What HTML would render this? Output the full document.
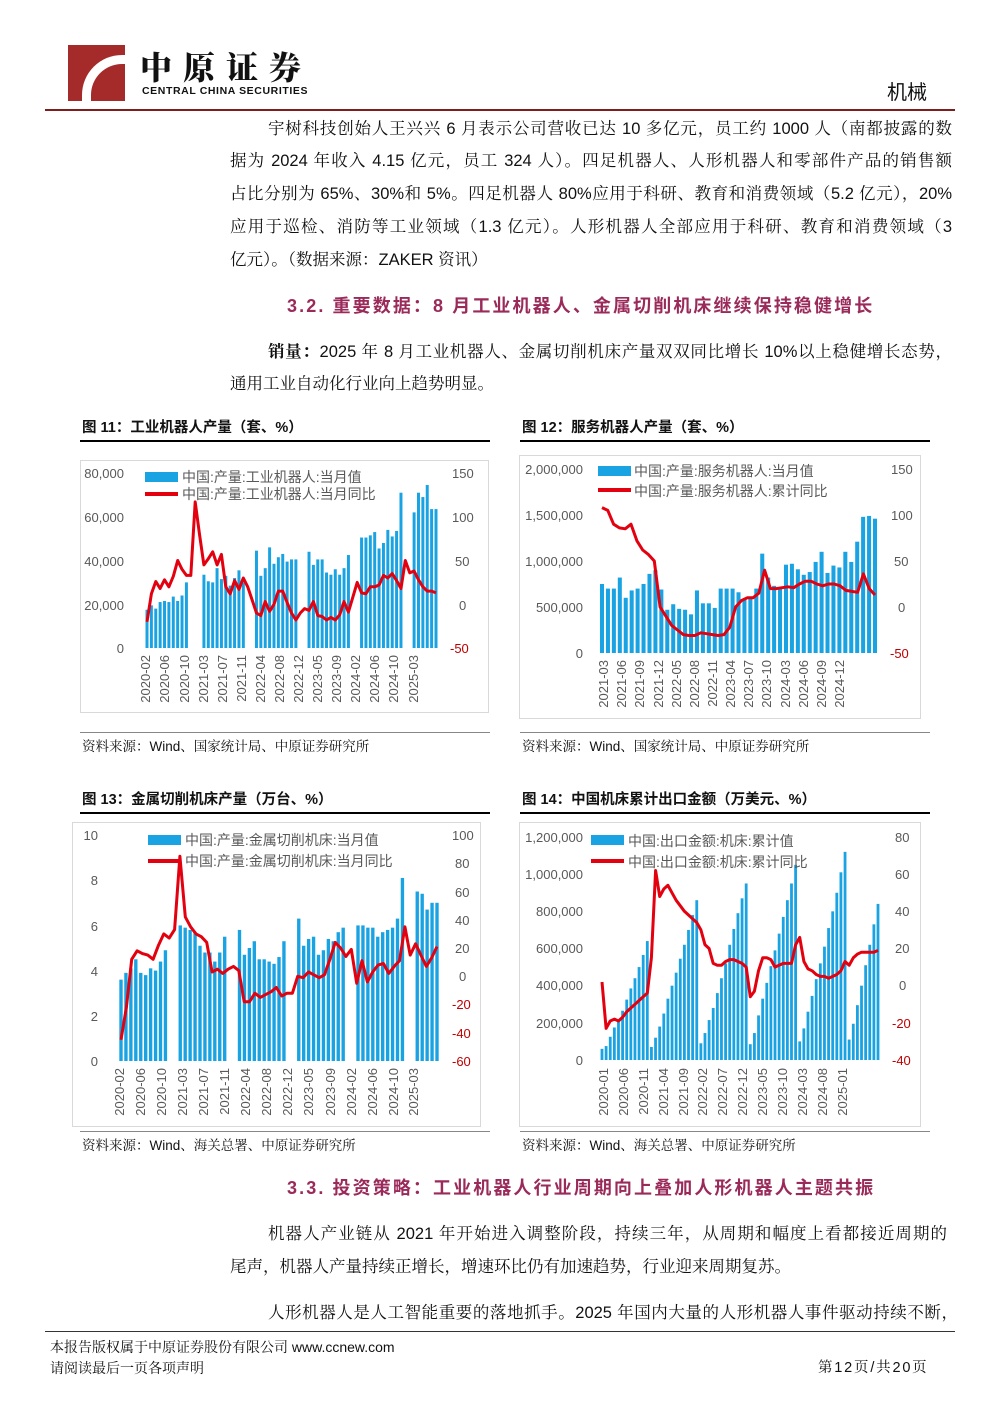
<!DOCTYPE html>
<html><head><meta charset="utf-8">
<style>
body{margin:0;background:#fff;}
#pg{position:relative;width:1000px;height:1415px;overflow:hidden;font-family:"Liberation Sans","Noto Serif CJK SC",serif;color:#111;}
.t{position:absolute;white-space:nowrap;font-size:16.5px;line-height:18px;}
.j{text-align:justify;text-align-last:justify;white-space:normal;}
.h{position:absolute;white-space:nowrap;font-family:"Liberation Sans","Noto Sans CJK SC",sans-serif;font-weight:bold;font-size:18px;color:#9a2a5a;line-height:20px;letter-spacing:2.1px;}
.ft{position:absolute;font-family:"Liberation Sans","Noto Sans CJK SC",sans-serif;font-weight:bold;font-size:14.5px;line-height:16px;}
.src{position:absolute;font-size:13.5px;line-height:16px;font-family:"Liberation Sans","Noto Serif CJK SC",serif;}
svg text{font-family:"Liberation Sans","Noto Sans CJK SC",sans-serif;}
</style></head><body><div id="pg">

<!-- header -->
<div style="position:absolute;left:68px;top:45px;width:57px;height:56px;background:#a52a2a;overflow:hidden">
 <div style="position:absolute;left:14px;top:10px;width:36px;height:60px;border-left:9px solid #fff;border-top:9px solid #fff;border-radius:40px 0 0 0;"></div>
</div>
<div style="position:absolute;left:140px;top:48px;font-family:'Noto Serif CJK SC',serif;font-weight:900;font-size:32px;letter-spacing:11px;line-height:36px">中原证券</div>
<div style="position:absolute;left:142px;top:85px;font-family:'Liberation Sans',sans-serif;font-weight:bold;font-size:10.5px;line-height:12px;letter-spacing:0.6px">CENTRAL CHINA SECURITIES</div>
<div style="position:absolute;left:887px;top:82px;font-size:20px;line-height:22px;font-family:'Liberation Sans','Noto Sans CJK SC',sans-serif">机械</div>
<div style="position:absolute;left:45px;top:109px;width:910px;height:2px;background:#7f1d1d"></div>

<!-- body text -->
<div class="t j" style="left:268px;top:120px;width:684px">宇树科技创始人王兴兴 6 月表示公司营收已达 10 多亿元，员工约 1000 人（南都披露的数</div>
<div class="t j" style="left:230px;top:152px;width:722px">据为 2024 年收入 4.15 亿元，员工 324 人）。四足机器人、人形机器人和零部件产品的销售额</div>
<div class="t j" style="left:230px;top:185px;width:722px">占比分别为 65%、30%和 5%。四足机器人 80%应用于科研、教育和消费领域（5.2 亿元），20%</div>
<div class="t j" style="left:230px;top:218px;width:722px">应用于巡检、消防等工业领域（1.3 亿元）。人形机器人全部应用于科研、教育和消费领域（3</div>
<div class="t" style="left:230px;top:251px">亿元）。（数据来源：ZAKER 资讯）</div>

<div class="h" style="left:287px;top:296px">3.2. 重要数据：8 月工业机器人、金属切削机床继续保持稳健增长</div>

<div class="t j" style="left:268px;top:343px;width:684px"><b>销量：</b>2025 年 8 月工业机器人、金属切削机床产量双双同比增长 10%以上稳健增长态势，</div>
<div class="t" style="left:230px;top:375px">通用工业自动化行业向上趋势明显。</div>

<div class="ft" style="left:82px;top:420px">图 11：工业机器人产量（套、%）</div>
<div class="ft" style="left:522px;top:420px">图 12：服务机器人产量（套、%）</div>
<div class="src" style="left:82px;top:739px">资料来源：Wind、国家统计局、中原证券研究所</div>
<div class="src" style="left:522px;top:739px">资料来源：Wind、国家统计局、中原证券研究所</div>

<div class="ft" style="left:82px;top:792px">图 13：金属切削机床产量（万台、%）</div>
<div class="ft" style="left:522px;top:792px">图 14：中国机床累计出口金额（万美元、%）</div>
<div class="src" style="left:82px;top:1138px">资料来源：Wind、海关总署、中原证券研究所</div>
<div class="src" style="left:522px;top:1138px">资料来源：Wind、海关总署、中原证券研究所</div>

<div class="h" style="left:287px;top:1178px">3.3. 投资策略：工业机器人行业周期向上叠加人形机器人主题共振</div>

<div class="t j" style="left:268px;top:1225px;width:679px">机器人产业链从 2021 年开始进入调整阶段，持续三年，从周期和幅度上看都接近周期的</div>
<div class="t" style="left:230px;top:1258px">尾声，机器人产量持续正增长，增速环比仍有加速趋势，行业迎来周期复苏。</div>
<div class="t j" style="left:268px;top:1304px;width:690px">人形机器人是人工智能重要的落地抓手。2025 年国内大量的人形机器人事件驱动持续不断，</div>

<div style="position:absolute;left:45px;top:1331px;width:910px;height:1px;background:#333"></div>
<div class="src" style="left:50px;top:1339px;font-size:14px">本报告版权属于中原证券股份有限公司 www.ccnew.com</div>
<div class="src" style="left:50px;top:1360px;font-size:14px">请阅读最后一页各项声明</div>
<div class="src" style="left:818px;top:1360px;font-size:14.5px;letter-spacing:1.8px">第12页/共20页</div>

<svg id="sv" width="1000" height="1415" style="position:absolute;left:0;top:0" xmlns="http://www.w3.org/2000/svg">
<g fill="none">
<rect x="80.5" y="460.5" width="408" height="252" stroke="#d9d9d9"/>
<rect x="519.5" y="455.5" width="401" height="263" stroke="#d9d9d9"/>
<rect x="72.5" y="822.5" width="408" height="304" stroke="#d9d9d9"/>
<rect x="519.5" y="822.5" width="401" height="304" stroke="#d9d9d9"/>
</g>
<g fill="#000">
<rect x="80" y="440" width="410" height="2"/><rect x="520" y="440" width="410" height="2"/>
<rect x="80" y="812" width="410" height="2"/><rect x="520" y="812" width="410" height="2"/>
</g>
<g fill="#888"><rect x="80" y="732" width="410" height="1"/><rect x="520" y="732" width="410" height="1"/>
<rect x="80" y="1131" width="410" height="1"/><rect x="520" y="1131" width="410" height="1"/></g>
<g id="plots"></g>
<!-- legends -->
<g font-size="14" fill="#595959">
<rect x="145" y="472" width="33" height="10" fill="#1aa3e2"/><text x="182" y="482">中国:产量:工业机器人:当月值</text>
<rect x="145" y="492" width="33" height="4" fill="#e3000f"/><text x="182" y="499">中国:产量:工业机器人:当月同比</text>
<rect x="598" y="466" width="33" height="10" fill="#1aa3e2"/><text x="634" y="476">中国:产量:服务机器人:当月值</text>
<rect x="598" y="488" width="33" height="4" fill="#e3000f"/><text x="634" y="496">中国:产量:服务机器人:累计同比</text>
<rect x="148" y="835" width="33" height="10" fill="#1aa3e2"/><text x="185" y="845">中国:产量:金属切削机床:当月值</text>
<rect x="148" y="859" width="33" height="4" fill="#e3000f"/><text x="185" y="866">中国:产量:金属切削机床:当月同比</text>
<rect x="591" y="835" width="33" height="10" fill="#1aa3e2"/><text x="628" y="846">中国:出口金额:机床:累计值</text>
<rect x="591" y="859" width="33" height="4" fill="#e3000f"/><text x="628" y="867">中国:出口金额:机床:累计同比</text>
</g>
<!-- axis labels -->
<g font-size="13" fill="#595959" text-anchor="end">
<text x="124" y="478">80,000</text><text x="124" y="522">60,000</text><text x="124" y="566">40,000</text><text x="124" y="610">20,000</text><text x="124" y="653">0</text>
<text x="583" y="474">2,000,000</text><text x="583" y="520">1,500,000</text><text x="583" y="566">1,000,000</text><text x="583" y="612">500,000</text><text x="583" y="658">0</text>
<text x="98" y="840">10</text><text x="98" y="885">8</text><text x="98" y="931">6</text><text x="98" y="976">4</text><text x="98" y="1021">2</text><text x="98" y="1066">0</text>
<text x="583" y="842">1,200,000</text><text x="583" y="879">1,000,000</text><text x="583" y="916">800,000</text><text x="583" y="953">600,000</text><text x="583" y="990">400,000</text><text x="583" y="1028">200,000</text><text x="583" y="1065">0</text>
</g>
<g font-size="13" fill="#595959">
<text x="452" y="478">150</text><text x="452" y="522">100</text><text x="455" y="566">50</text><text x="459" y="610">0</text><text x="450" y="653" fill="#c00000">-50</text>
<text x="891" y="474">150</text><text x="891" y="520">100</text><text x="894" y="566">50</text><text x="898" y="612">0</text><text x="890" y="658" fill="#c00000">-50</text>
<text x="452" y="840">100</text><text x="455" y="868">80</text><text x="455" y="897">60</text><text x="455" y="925">40</text><text x="455" y="953">20</text><text x="459" y="981">0</text><text x="452" y="1009" fill="#c00000">-20</text><text x="452" y="1038" fill="#c00000">-40</text><text x="452" y="1066" fill="#c00000">-60</text>
<text x="895" y="842">80</text><text x="895" y="879">60</text><text x="895" y="916">40</text><text x="895" y="953">20</text><text x="899" y="990">0</text><text x="892" y="1028" fill="#c00000">-20</text><text x="892" y="1065" fill="#c00000">-40</text>
</g>
<g font-size="13" fill="#595959" text-anchor="end">
<text transform="translate(150,655) rotate(-90)">2020-02</text><text transform="translate(169,655) rotate(-90)">2020-06</text><text transform="translate(189,655) rotate(-90)">2020-10</text><text transform="translate(208,655) rotate(-90)">2021-03</text><text transform="translate(227,655) rotate(-90)">2021-07</text><text transform="translate(246,655) rotate(-90)">2021-11</text><text transform="translate(265,655) rotate(-90)">2022-04</text><text transform="translate(284,655) rotate(-90)">2022-08</text><text transform="translate(303,655) rotate(-90)">2022-12</text><text transform="translate(322,655) rotate(-90)">2023-05</text><text transform="translate(341,655) rotate(-90)">2023-09</text><text transform="translate(360,655) rotate(-90)">2024-02</text><text transform="translate(379,655) rotate(-90)">2024-06</text><text transform="translate(398,655) rotate(-90)">2024-10</text><text transform="translate(418,655) rotate(-90)">2025-03</text>
<text transform="translate(608,660) rotate(-90)">2021-03</text><text transform="translate(626,660) rotate(-90)">2021-06</text><text transform="translate(644,660) rotate(-90)">2021-09</text><text transform="translate(663,660) rotate(-90)">2021-12</text><text transform="translate(681,660) rotate(-90)">2022-05</text><text transform="translate(699,660) rotate(-90)">2022-08</text><text transform="translate(717,660) rotate(-90)">2022-11</text><text transform="translate(735,660) rotate(-90)">2023-04</text><text transform="translate(753,660) rotate(-90)">2023-07</text><text transform="translate(771,660) rotate(-90)">2023-10</text><text transform="translate(790,660) rotate(-90)">2024-03</text><text transform="translate(808,660) rotate(-90)">2024-06</text><text transform="translate(826,660) rotate(-90)">2024-09</text><text transform="translate(844,660) rotate(-90)">2024-12</text>
<text transform="translate(124,1068) rotate(-90)">2020-02</text><text transform="translate(145,1068) rotate(-90)">2020-06</text><text transform="translate(166,1068) rotate(-90)">2020-10</text><text transform="translate(187,1068) rotate(-90)">2021-03</text><text transform="translate(208,1068) rotate(-90)">2021-07</text><text transform="translate(229,1068) rotate(-90)">2021-11</text><text transform="translate(250,1068) rotate(-90)">2022-04</text><text transform="translate(271,1068) rotate(-90)">2022-08</text><text transform="translate(292,1068) rotate(-90)">2022-12</text><text transform="translate(313,1068) rotate(-90)">2023-05</text><text transform="translate(335,1068) rotate(-90)">2023-09</text><text transform="translate(356,1068) rotate(-90)">2024-02</text><text transform="translate(377,1068) rotate(-90)">2024-06</text><text transform="translate(398,1068) rotate(-90)">2024-10</text><text transform="translate(418,1068) rotate(-90)">2025-03</text>
<text transform="translate(608,1068) rotate(-90)">2020-01</text><text transform="translate(628,1068) rotate(-90)">2020-06</text><text transform="translate(648,1068) rotate(-90)">2020-11</text><text transform="translate(668,1068) rotate(-90)">2021-04</text><text transform="translate(688,1068) rotate(-90)">2021-09</text><text transform="translate(707,1068) rotate(-90)">2022-02</text><text transform="translate(727,1068) rotate(-90)">2022-07</text><text transform="translate(747,1068) rotate(-90)">2022-12</text><text transform="translate(767,1068) rotate(-90)">2023-05</text><text transform="translate(787,1068) rotate(-90)">2023-10</text><text transform="translate(807,1068) rotate(-90)">2024-03</text><text transform="translate(827,1068) rotate(-90)">2024-08</text><text transform="translate(847,1068) rotate(-90)">2025-01</text>
</g>
</svg>
</div>
<script>
(function(){
var N=null,G=document.getElementById("plots");
function draw(bars,x0,x1,y0,yT,vmax,line,rmin,rmax,bwf){
  var n=bars.length,st=(x1-x0)/(n-1),bw=st*(bwf||0.68),s="";
  for(var i=0;i<n;i++){if(bars[i]==null)continue;var h=bars[i]/vmax*(y0-yT);
    s+='<rect x="'+(x0+i*st-bw/2).toFixed(2)+'" y="'+(y0-h).toFixed(2)+'" width="'+bw.toFixed(2)+'" height="'+h.toFixed(2)+'" fill="#1aa3e2"/>';}
  var m=line.length,ls=(x1-x0)/(m-1),p=[];
  for(var j=0;j<m;j++)p.push((x0+j*ls).toFixed(1)+","+(y0-(line[j]-rmin)/(rmax-rmin)*(y0-yT)).toFixed(1));
  s+='<polyline points="'+p.join(" ")+'" fill="none" stroke="#e3000f" stroke-width="3" stroke-linejoin="round"/>';
  G.insertAdjacentHTML("beforeend",s);
}
draw([17.5,19.5,18,21,21.5,21,23.5,21.5,24,30,N, N,N,33.5,30.5,30,36.5,31.5,33,28.5,32,35.5,30,
 N,N,44.5,33,36.5,46,38.5,41.5,43,39.5,40.5,40.5, N,N,44,38,40.5,40.5,34.5,33.5,36,33.5,36.5,42.5,
 N,N,50.5,50.5,51.5,53,45.5,48,54,51,53.5,71, N,N,62,71,69,74.5,63.5,63.5],147,436,648,473,80,
 [-20,12,26,18,28,20,32,50,40,33,33,117,80,45,52,60,45,57,20,12,27,17,30,20,5,-10,-13,3,-8,0,15,15,2,-10,-18,-10,-5,-7,3,-13,-14,-18,-15,-18,-12,3,-9,8,25,13,12,20,20,22,33,30,35,27,18,50,36,38,28,20,15,15,13].slice(0,67),-50,150);
draw([750,700,700,820,600,680,700,750,860,900,690,470,530,480,470,420,680,540,540,490,700,700,700,660,580,600,700,1080,820,730,710,960,970,910,850,880,990,1100,870,950,930,1100,990,1210,1480,1490,1460],602,875,653,469,2000,
 [108,105,90,86,85,90,72,62,57,50,0,-10,-20,-25,-30,-31,-31,-28,-29,-30,-31,-30,-22,0,7,10,10,15,40,20,20,21,22,21,25,28,28,25,23,25,25,23,18,17,16,36,20,13],-50,150);
draw([3.6,3.9,4.1,4.5,3.9,3.8,4.1,4.0,4.4,4.9,N,N,6.0,5.9,5.8,5.7,5.1,4.8,4.8,4.4,4.8,5.5,N,N,5.8,4.7,5.0,5.3,4.5,4.5,4.4,4.3,4.6,5.3,N,N,6.3,5.1,5.4,5.5,4.7,4.9,5.4,5.3,5.7,5.9,N,N,6.0,6.0,5.9,5.9,5.5,5.7,5.8,5.9,6.3,8.1,N,N,7.5,7.4,6.7,7.0,7.0],121,437,1061,835,10,
 [-45,-22,12,18,16,15,12,22,30,27,33,85,42,35,30,28,24,3,5,2,5,7,4,-18,-18,-12,-15,-13,-11,-8,-14,-12,-12,0,-1,3,1,-1,1,12,24,20,14,19,-5,11,-4,3,8,9,2,7,11,35,15,23,15,7,13,21],-60,100);
draw([60,75,125,175,215,265,325,385,440,500,565,640, 70,120,180,250,330,400,470,545,620,700,780,860, 90,145,215,280,360,440,520,620,705,790,870,950, 85,145,240,330,415,505,590,680,770,860,950,1050, 100,170,260,345,435,520,610,710,800,900,1010,1120, 110,195,295,400,510,620,730,840],602,878,1060,837,1200,
 [2,-23,-19,-18,-19,-17,-14,-12,-10,-8,-6,-4, 15,62,48,52,54,50,46,43,40,38,36,34, 30,22,20,12,11,11,13,14,14,13,12,10, -6,-3,8,15,15,14,10,11,12,12,12,22, 26,13,9,8,6,5,5,4,5,6,8,13, 11,15,17,18,18,18,18,19],-40,80);
})();
</script>
</body></html>
